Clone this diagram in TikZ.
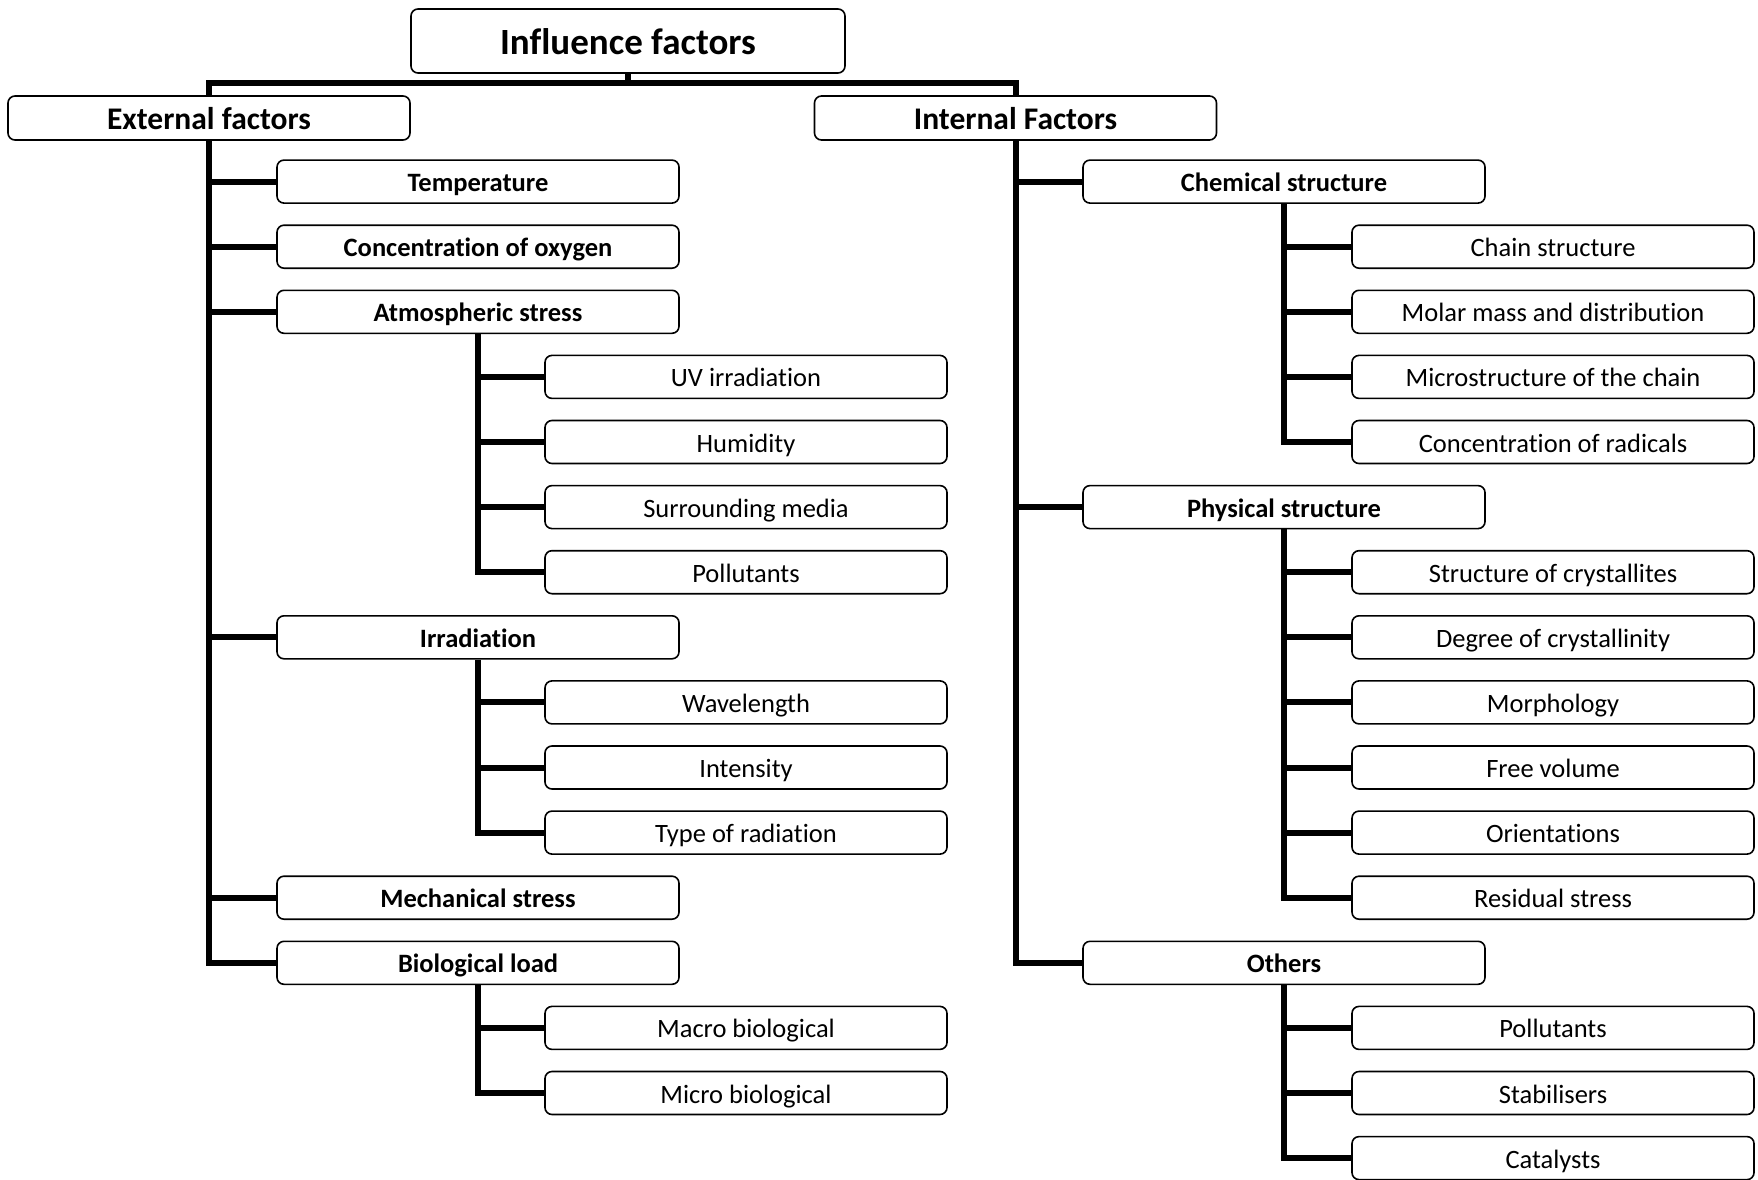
\documentclass[tikz,border=0pt]{standalone}
\usepackage{fontspec}
\setmainfont[Ligatures=NoCommon]{Carlito}
\begin{document}
\begin{tikzpicture}[x=1pt, y=-1pt,
    rbox/.style={draw, fill=white, rounded corners=7pt, line width=1.6pt, inner sep=0pt,
        minimum width=402pt, minimum height=43pt, text height=22pt, text depth=2pt,
        font=\fontsize{26.5}{30}\selectfont},
    topbox/.style={rbox, minimum width=434pt, minimum height=64pt, text height=30pt, text depth=2pt,
        font=\bfseries\fontsize{37}{42}\selectfont},
    groupbox/.style={rbox, minimum height=44pt, text height=26pt, text depth=2pt,
        font=\bfseries\fontsize{31.5}{36}\selectfont},
    factorbox/.style={rbox, font=\bfseries\fontsize{26.5}{30}\selectfont},
    itembox/.style={rbox},
    trunk/.style={line width=6pt}]
    \useasboundingbox (0,0) rectangle (1758,1180);

    \node[topbox] (inf) at (628, 41) {Influence factors};
    \node[groupbox] (ext) at (209, 118) {External factors};
    \node[groupbox] (int) at (1015.5, 118) {Internal Factors};
    \coordinate (bar) at (628, 83);

    % external factors
    \node[factorbox] (temp) at (478, 181.6) {Temperature};
    \node[factorbox] (oxy) at (478, 246.7) {Concentration of oxygen};
    \node[factorbox] (atmos) at (478, 311.8) {Atmospheric stress};
    \node[itembox] (uv) at (746, 376.9) {UV irradiation};
    \node[itembox] (humid) at (746, 442.0) {Humidity};
    \node[itembox] (media) at (746, 507.1) {Surrounding media};
    \node[itembox] (pollA) at (746, 572.2) {Pollutants};
    \node[factorbox] (irr) at (478, 637.3) {Irradiation};
    \node[itembox] (wave) at (746, 702.4) {Wavelength};
    \node[itembox] (inten) at (746, 767.5) {Intensity};
    \node[itembox] (rtype) at (746, 832.6) {Type of radiation};
    \node[factorbox] (mech) at (478, 897.7) {Mechanical stress};
    \node[factorbox] (bio) at (478, 962.8) {Biological load};
    \node[itembox] (macro) at (746, 1027.9) {Macro biological};
    \node[itembox] (microb) at (746, 1093.0) {Micro biological};

    % internal factors
    \node[factorbox] (chem) at (1284, 181.6) {Chemical structure};
    \node[itembox] (chain) at (1553, 246.7) {Chain structure};
    \node[itembox] (molar) at (1553, 311.8) {Molar mass and distribution};
    \node[itembox] (microstr) at (1553, 376.9) {Microstructure of the chain};
    \node[itembox] (radic) at (1553, 442.0) {Concentration of radicals};
    \node[factorbox] (phys) at (1284, 507.1) {Physical structure};
    \node[itembox] (cryst) at (1553, 572.2) {Structure of crystallites};
    \node[itembox] (degree) at (1553, 637.3) {Degree of crystallinity};
    \node[itembox] (morph) at (1553, 702.4) {Morphology};
    \node[itembox] (freevol) at (1553, 767.5) {Free volume};
    \node[itembox] (orient) at (1553, 832.6) {Orientations};
    \node[itembox] (resid) at (1553, 897.7) {Residual stress};
    \node[factorbox] (others) at (1284, 962.8) {Others};
    \node[itembox] (pollB) at (1553, 1027.9) {Pollutants};
    \node[itembox] (stab) at (1553, 1093.0) {Stabilisers};
    \node[itembox] (cat) at (1553, 1158.1) {Catalysts};

    % top level
    \draw[trunk] (inf.south) -- (bar);
    \draw[trunk] (ext.north) |- (bar) -| (int.north);

    % external branches
    \draw[trunk] (ext.south) |- (bio.west);
    \draw[trunk] (ext.south |- temp.west) -- (temp.west);
    \draw[trunk] (ext.south |- oxy.west) -- (oxy.west);
    \draw[trunk] (ext.south |- atmos.west) -- (atmos.west);
    \draw[trunk] (ext.south |- irr.west) -- (irr.west);
    \draw[trunk] (ext.south |- mech.west) -- (mech.west);

    \draw[trunk] (atmos.south) |- (pollA.west);
    \draw[trunk] (atmos.south |- uv.west) -- (uv.west);
    \draw[trunk] (atmos.south |- humid.west) -- (humid.west);
    \draw[trunk] (atmos.south |- media.west) -- (media.west);

    \draw[trunk] (irr.south) |- (rtype.west);
    \draw[trunk] (irr.south |- wave.west) -- (wave.west);
    \draw[trunk] (irr.south |- inten.west) -- (inten.west);

    \draw[trunk] (bio.south) |- (microb.west);
    \draw[trunk] (bio.south |- macro.west) -- (macro.west);

    % internal branches
    \draw[trunk] (int.south) |- (others.west);
    \draw[trunk] (int.south |- chem.west) -- (chem.west);
    \draw[trunk] (int.south |- phys.west) -- (phys.west);

    \draw[trunk] (chem.south) |- (radic.west);
    \draw[trunk] (chem.south |- chain.west) -- (chain.west);
    \draw[trunk] (chem.south |- molar.west) -- (molar.west);
    \draw[trunk] (chem.south |- microstr.west) -- (microstr.west);

    \draw[trunk] (phys.south) |- (resid.west);
    \draw[trunk] (phys.south |- cryst.west) -- (cryst.west);
    \draw[trunk] (phys.south |- degree.west) -- (degree.west);
    \draw[trunk] (phys.south |- morph.west) -- (morph.west);
    \draw[trunk] (phys.south |- freevol.west) -- (freevol.west);
    \draw[trunk] (phys.south |- orient.west) -- (orient.west);

    \draw[trunk] (others.south) |- (cat.west);
    \draw[trunk] (others.south |- pollB.west) -- (pollB.west);
    \draw[trunk] (others.south |- stab.west) -- (stab.west);
\end{tikzpicture}
\end{document}
